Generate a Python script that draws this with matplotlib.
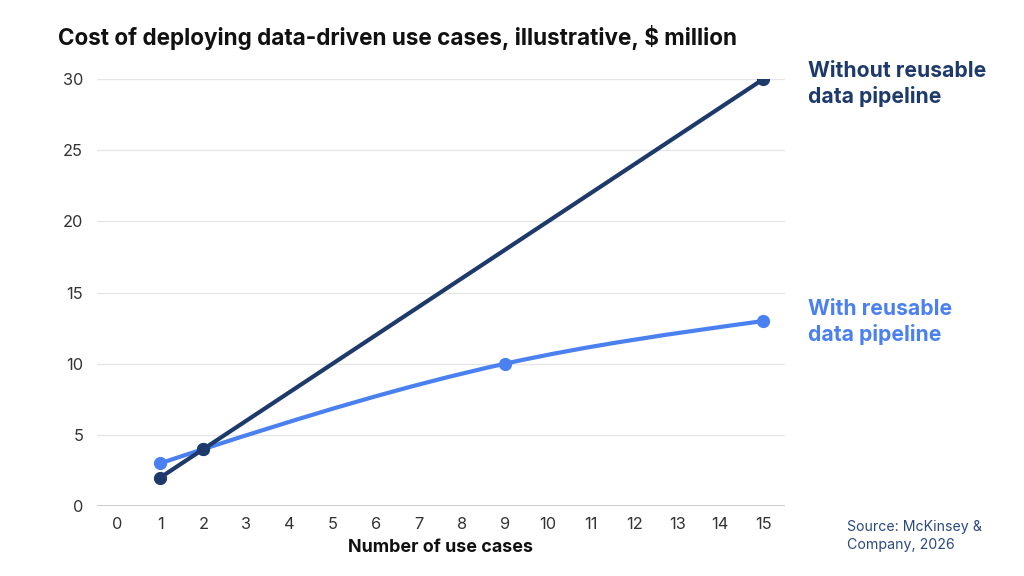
import matplotlib
matplotlib.use("Agg")
import matplotlib.pyplot as plt
from matplotlib.path import Path
from matplotlib.patches import PathPatch
import numpy as np

plt.rcParams['font.family'] = ['Inter', 'DejaVu Sans']

# Data
x_ticks = list(range(0, 16))
without_x = [1, 2, 15]
without_y = [2, 4, 30]
with_x = [1, 2, 9, 15]
with_y = [3, 4, 10, 13]
y_ticks = [0, 5, 10, 15, 20, 25, 30]

title = "Cost of deploying data-driven use cases, illustrative, $ million"
xlabel = "Number of use cases"
label_without = "Without reusable\ndata pipeline"
label_with = "With reusable\ndata pipeline"
source = "Source: McKinsey &\nCompany, 2026"

dark = "#1d3a6a"
light = "#4a80f0"

def monotone_path(xs, ys):
    xs = np.asarray(xs, float); ys = np.asarray(ys, float)
    n = len(xs)
    h = np.diff(xs); s = np.diff(ys) / h
    t = np.zeros(n)
    for i in range(1, n - 1):
        p = (s[i-1] * h[i] + s[i] * h[i-1]) / (h[i-1] + h[i])
        t[i] = (np.sign(s[i-1]) + np.sign(s[i])) * min(abs(s[i-1]), abs(s[i]), 0.5 * abs(p))
    t[0] = (3 * s[0] - t[1]) / 2
    t[-1] = (3 * s[-1] - t[-2]) / 2
    verts = [(xs[0], ys[0])]
    codes = [Path.MOVETO]
    for i in range(n - 1):
        dx = h[i] / 3
        verts += [(xs[i] + dx, ys[i] + dx * t[i]),
                  (xs[i+1] - dx, ys[i+1] - dx * t[i+1]),
                  (xs[i+1], ys[i+1])]
        codes += [Path.CURVE4] * 3
    return Path(verts, codes)

fig = plt.figure(figsize=(10.24, 5.76), dpi=100)
ax = fig.add_axes([0.0947, 0.1215, 0.6719, 0.7413])
ax.set_xlim(-0.47, 15.5)
ax.set_ylim(0, 30)

for yt in y_ticks[1:]:
    ax.axhline(yt, color="#e6e6e6", lw=1, zorder=0)
ax.axhline(0, color="#c8c8c8", lw=1.3, zorder=1)

patch = PathPatch(monotone_path(with_x, with_y), facecolor="none", edgecolor=light,
                  lw=3, capstyle="round", zorder=2)
ax.add_patch(patch)
ax.plot(with_x, with_y, linestyle="none", marker="o", ms=8.5, color=light, zorder=3)
ax.plot(without_x, without_y, color=dark, lw=3, marker="o", ms=8.5, zorder=4,
        solid_capstyle="round")

for sp in ax.spines.values():
    sp.set_visible(False)
ax.set_xticks(x_ticks)
ax.set_yticks(y_ticks)
ax.tick_params(length=0, labelsize=11.8, labelcolor="#333333")
ax.tick_params(axis='y', pad=10)
ax.tick_params(axis='x', pad=8)
ax.set_xlabel(xlabel, fontsize=12.9, fontweight="bold", color="#111111", labelpad=5)

fig.text(58 / 1024, 1 - 37 / 576, title, fontsize=16.2, fontweight="bold",
         color="#111111", va="center", ha="left")
fig.text(808 / 1024, 1 - 84 / 576, label_without, fontsize=15.2, fontweight="bold",
         color=dark, va="center", ha="left", linespacing=1.33)
fig.text(808 / 1024, 1 - 322 / 576, label_with, fontsize=15.2, fontweight="bold",
         color=light, va="center", ha="left", linespacing=1.33)
fig.text(847 / 1024, 1 - 536 / 576, source, fontsize=10.2, color="#2c4a7e",
         va="center", ha="left", linespacing=1.3)

fig.savefig("out.png", dpi=100)
